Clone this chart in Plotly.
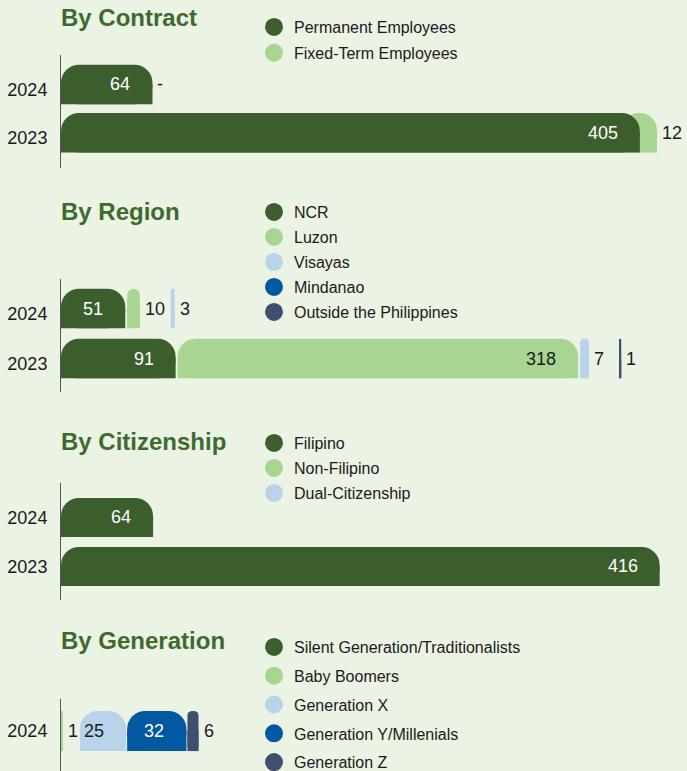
import plotly.graph_objects as go

# year categories (top to bottom)
years = ["2024", "2023"]
generation_years = ["2024"]

# By Contract
contract_names = ["Permanent Employees", "Fixed-Term Employees"]
contract_permanent = [64, 405]
contract_fixed_term = [0, 12]

# By Region
region_names = ["NCR", "Luzon", "Visayas", "Mindanao", "Outside the Philippines"]
region_ncr = [51, 91]
region_luzon = [10, 318]
region_visayas = [3, 7]
region_mindanao = [0, 0]
region_outside = [0, 1]

# By Citizenship
citizenship_names = ["Filipino", "Non-Filipino", "Dual-Citizenship"]
citizenship_filipino = [64, 416]
citizenship_non_filipino = [0, 0]
citizenship_dual = [0, 0]

# By Generation (only 2024 is visible)
generation_names = ["Silent Generation/Traditionalists", "Baby Boomers", "Generation X",
                    "Generation Y/Millenials", "Generation Z"]
gen_silent = [0]
gen_boomers = [1]
gen_x = [25]
gen_y = [32]
gen_z = [6]

# colours
BG = "#EBF3E4"
TITLE_GREEN = "#3F6A2F"
TEXT = "#1A1A1A"
DARK_GREEN = "#3C5E2C"
LIGHT_GREEN = "#A8D592"
PALE_BLUE = "#B8D3EA"
BLUE = "#0059A1"
SLATE = "#3D5070"
DARK_FILLS = {DARK_GREEN, BLUE, SLATE}

FONT = "Liberation Sans, Arial, sans-serif"
W, H = 687, 771
LEFT = 61
PLOT_W = W - LEFT
RADIUS = 18
NUM_SIZE = 18

# pad_top / pad_bottom: extra category units above the first and below the last row
# in_gap / out_gap: pixel gap after a segment whose label sits inside / outside it
# tuck: next segment starts under the rounded corner of the previous one
panels = [
    dict(title="By Contract", cats=years, names=contract_names,
         values=[contract_permanent, contract_fixed_term],
         colors=[DARK_GREEN, LIGHT_GREEN],
         xmax=438, ypx=(55, 168), pad_top=0.612, pad_bottom=0.732, bar_w=0.82,
         label_shift=5, title_y=17, legend_top=10, legend_gap=2,
         in_gap=0, out_gap=30, tuck=True, dash_zero=True),
    dict(title="By Region", cats=years, names=region_names,
         values=[region_ncr, region_luzon, region_visayas, region_mindanao, region_outside],
         colors=[DARK_GREEN, LIGHT_GREEN, PALE_BLUE, BLUE, SLATE],
         xmax=497, ypx=(279, 392), pad_top=0.59, pad_bottom=0.67, bar_w=0.79,
         label_shift=5, title_y=211, legend_top=195, legend_gap=1.2,
         in_gap=2, out_gap=31, tuck=False, dash_zero=False),
    dict(title="By Citizenship", cats=years, names=citizenship_names,
         values=[citizenship_filipino, citizenship_non_filipino, citizenship_dual],
         colors=[DARK_GREEN, LIGHT_GREEN, PALE_BLUE],
         xmax=435, ypx=(483, 600), pad_top=0.704, pad_bottom=0.684, bar_w=0.80,
         label_shift=0, title_y=441, legend_top=426, legend_gap=1.2,
         in_gap=2, out_gap=30, tuck=False, dash_zero=False),
    dict(title="By Generation", cats=generation_years, names=generation_names,
         values=[gen_silent, gen_boomers, gen_x, gen_y, gen_z],
         colors=[DARK_GREEN, LIGHT_GREEN, PALE_BLUE, BLUE, SLATE],
         xmax=338, ypx=(699, 771), pad_top=0.653, pad_bottom=0.816, bar_w=0.82,
         label_shift=0, title_y=640, legend_top=630, legend_gap=5,
         in_gap=1, out_gap=17, tuck=False, dash_zero=False),
]

fig = go.Figure()
annotations = []
layout = {}

for i, p in enumerate(panels):
    n = "" if i == 0 else str(i + 1)
    xa, ya, leg = "x" + n, "y" + n, "legend" + n
    ppu = PLOT_W / p["xmax"]
    w = p["bar_w"]
    ncat = len(p["cats"])
    ypos = [ncat - 1 - r for r in range(ncat)]  # first year on top

    # lay the segments end to end, leaving room for labels that sit outside
    segs = [([], [], []) for _ in p["names"]]
    for r, yv in enumerate(ypos):
        pos = 0
        prev_drawn = False
        for s, vals in enumerate(p["values"]):
            v = vals[r]
            if v == 0:
                if p["dash_zero"]:
                    annotations.append(dict(xref=xa, yref=ya, x=pos, y=yv, text="-",
                                            xanchor="left", xshift=3, showarrow=False,
                                            font=dict(size=NUM_SIZE, color=TEXT)))
                continue
            back = RADIUS / ppu if (p["tuck"] and prev_drawn) else 0
            segs[s][0].append(pos - back)
            segs[s][1].append(v + back)
            segs[s][2].append(yv)
            prev_drawn = True
            txt = str(v)
            if v * ppu >= 40:
                col = "white" if p["colors"][s] in DARK_FILLS else TEXT
                annotations.append(dict(xref=xa, yref=ya, x=pos + v, y=yv, text=txt,
                                        xanchor="right", xshift=-20, showarrow=False,
                                        font=dict(size=NUM_SIZE, color=col)))
                gap = p["in_gap"]
            else:
                annotations.append(dict(xref=xa, yref=ya, x=pos + v, y=yv, text=txt,
                                        xanchor="left", xshift=3, showarrow=False,
                                        font=dict(size=NUM_SIZE, color=TEXT)))
                gap = p["out_gap"]
            pos += v + gap / ppu

    # tucked segments go underneath the one before them
    order = list(range(len(p["names"])))
    if p["tuck"]:
        order.reverse()
    for s in order:
        base, val, yv = segs[s]
        color = p["colors"][s]
        name = p["names"][s]
        if not val:
            continue
        # square lower half under the rounded bar -> only the top-right corner is round
        fig.add_trace(go.Bar(orientation="h", x=val, y=[y - w / 4 for y in yv], base=base,
                             width=w / 2,
                             marker=dict(color=color, line_width=0),
                             xaxis=xa, yaxis=ya, showlegend=False, hoverinfo="skip"))
        fig.add_trace(go.Bar(orientation="h", x=val, y=yv, base=base, width=w,
                             marker=dict(color=color, line_width=0, cornerradius=RADIUS),
                             xaxis=xa, yaxis=ya, showlegend=False, name=name,
                             hoverinfo="skip"))

    for s, name in enumerate(p["names"]):
        color = p["colors"][s]
        fig.add_trace(go.Scatter(x=[None], y=[None], mode="markers", name=name,
                                 marker=dict(symbol="circle", size=16, color=color,
                                             line=dict(width=2, color=color)),
                                 legend=leg, legendgroup=f"{leg}-{s}",
                                 xaxis=xa, yaxis=ya, hoverinfo="skip"))

    top, bottom = p["ypx"]
    layout["xaxis" + n] = dict(domain=[0, 1], range=[0, p["xmax"]], visible=False,
                               anchor=ya, fixedrange=True)
    layout["yaxis" + n] = dict(domain=[1 - bottom / H, 1 - top / H],
                               range=[-p["pad_bottom"], ncat - 1 + p["pad_top"]],
                               anchor=xa, tickmode="array", tickvals=ypos, ticktext=p["cats"],
                               showline=True, linecolor="#555555", linewidth=1,
                               showgrid=False, zeroline=False, ticks="",
                               tickfont=dict(size=NUM_SIZE, color=TEXT),
                               ticklabelstandoff=9, ticklabelshift=p["label_shift"],
                               fixedrange=True)
    layout[leg] = dict(x=(254 - LEFT) / PLOT_W, y=1 - p["legend_top"] / H,
                       xanchor="left", yanchor="top", bgcolor="rgba(0,0,0,0)",
                       font=dict(family=FONT, size=16, color=TEXT),
                       traceorder="grouped", tracegroupgap=p["legend_gap"],
                       itemclick=False, itemdoubleclick=False)
    annotations.append(dict(xref="paper", yref="paper", x=0, y=1 - p["title_y"] / H,
                            text="<b>" + p["title"] + "</b>", xanchor="left", yanchor="middle",
                            xshift=-2, showarrow=False,
                            font=dict(family=FONT, size=24, color=TITLE_GREEN)))

fig.update_layout(layout)
fig.update_layout(
    width=W, height=H, autosize=False,
    margin=dict(l=LEFT, r=0, t=0, b=0, pad=0, autoexpand=False),
    paper_bgcolor=BG, plot_bgcolor=BG,
    font=dict(family=FONT, color=TEXT),
    barmode="overlay",
    annotations=annotations,
)

fig.write_html("out.html", config={"displayModeBar": False},
               post_script="document.body.style.margin='0';")
